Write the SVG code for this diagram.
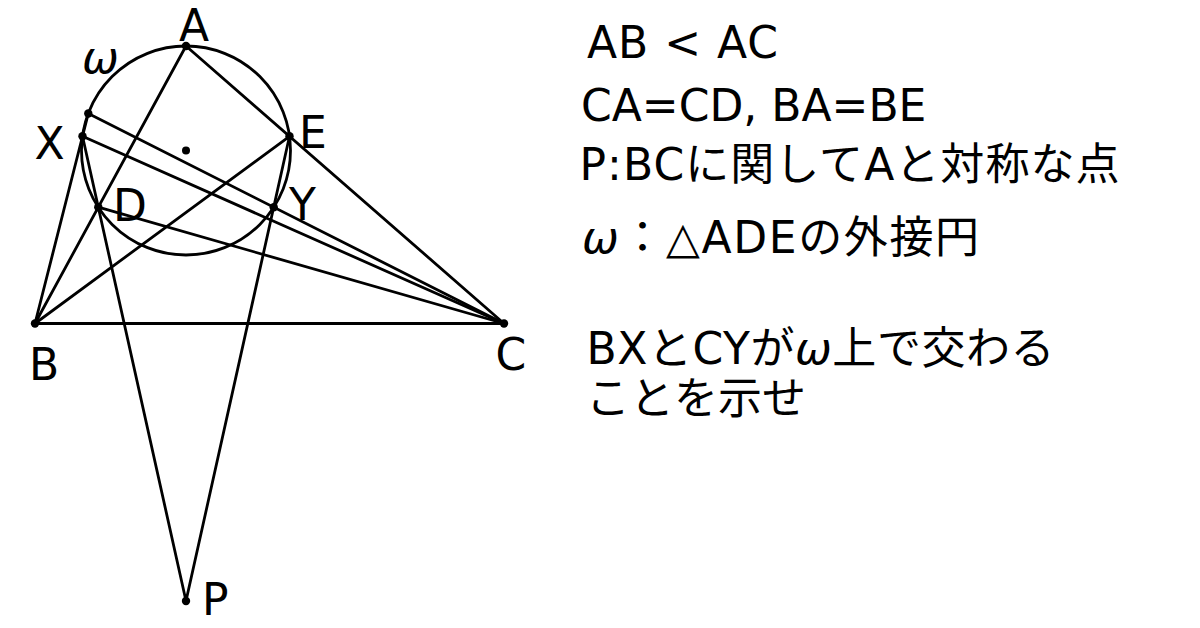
<svg xmlns="http://www.w3.org/2000/svg" width="1200" height="628" viewBox="0 0 1200 628">
<style>
.ln{stroke:#000;stroke-width:2.8;fill:none;stroke-linecap:round}
.pt{fill:#000}
.lb,.tx{font-family:"DejaVu Sans","Noto Sans CJK JP",sans-serif;font-size:44px;fill:#000}
.it{font-style:italic}
</style>
<rect width="1200" height="628" fill="#fff"/>
<g id="omega-circle">
<circle class="ln" cx="186" cy="150.5" r="104.5"/>
<text class="lb it" x="82" y="73">ω</text>
</g>
<g id="connectors" class="ln">
<line x1="186" y1="46" x2="35" y2="323.5"/>
<line x1="186" y1="46" x2="504" y2="323.5"/>
<line x1="35" y1="323.5" x2="504" y2="323.5"/>
<line x1="35" y1="323.5" x2="88.3" y2="113.5"/>
<line x1="88.3" y1="113.5" x2="504" y2="323.5"/>
<line x1="82.5" y1="136.3" x2="504" y2="323.5"/>
<line x1="98.3" y1="207.2" x2="504" y2="323.5"/>
<line x1="35" y1="323.5" x2="289.5" y2="136.3"/>
<line x1="186" y1="601" x2="82.5" y2="136.3"/>
<line x1="186" y1="601" x2="289.5" y2="136.3"/>
</g>
<g id="A"><circle class="pt" cx="186" cy="46" r="4.2"/><text class="lb" x="194" y="41" text-anchor="middle">A</text></g>
<g id="B"><circle class="pt" cx="35" cy="323.5" r="4.2"/><text class="lb" x="29" y="380">B</text></g>
<g id="C"><circle class="pt" cx="504" cy="323.5" r="4.2"/><text class="lb" x="495.5" y="370">C</text></g>
<g id="D"><circle class="pt" cx="98.3" cy="207.2" r="4.2"/><text class="lb" x="113" y="221">D</text></g>
<g id="E"><circle class="pt" cx="289.5" cy="136.3" r="4.2"/><text class="lb" x="299" y="148">E</text></g>
<g id="X"><circle class="pt" cx="82.5" cy="136.3" r="4.2"/><text class="lb" x="49.5" y="159" text-anchor="middle">X</text></g>
<g id="Y"><circle class="pt" cx="273.7" cy="207.2" r="4.2"/><text class="lb" x="289" y="220">Y</text></g>
<g id="Z"><circle class="pt" cx="88.3" cy="113.5" r="4.2"/></g>
<g id="P"><circle class="pt" cx="186" cy="601" r="4.2"/><text class="lb" x="202" y="615">P</text></g>
<g id="O"><circle class="pt" cx="186" cy="150.5" r="4"/></g>
<g id="statement">
<text class="tx" x="587" y="58" textLength="191">AB &lt; AC</text>
<text class="tx" x="581" y="121">CA=CD, BA=BE</text>
<text class="tx" x="579.5" y="180" textLength="540">P:BCに関してAと対称な点</text>
<text class="tx" x="582" y="253" textLength="397"><tspan class="it">ω</tspan>：△ADEの外接円</text>
<text class="tx" x="586.5" y="364" textLength="468">BXとCYが<tspan class="it">ω</tspan>上で交わる</text>
<text class="tx" x="586" y="414">ことを示せ</text>
</g>
</svg>
